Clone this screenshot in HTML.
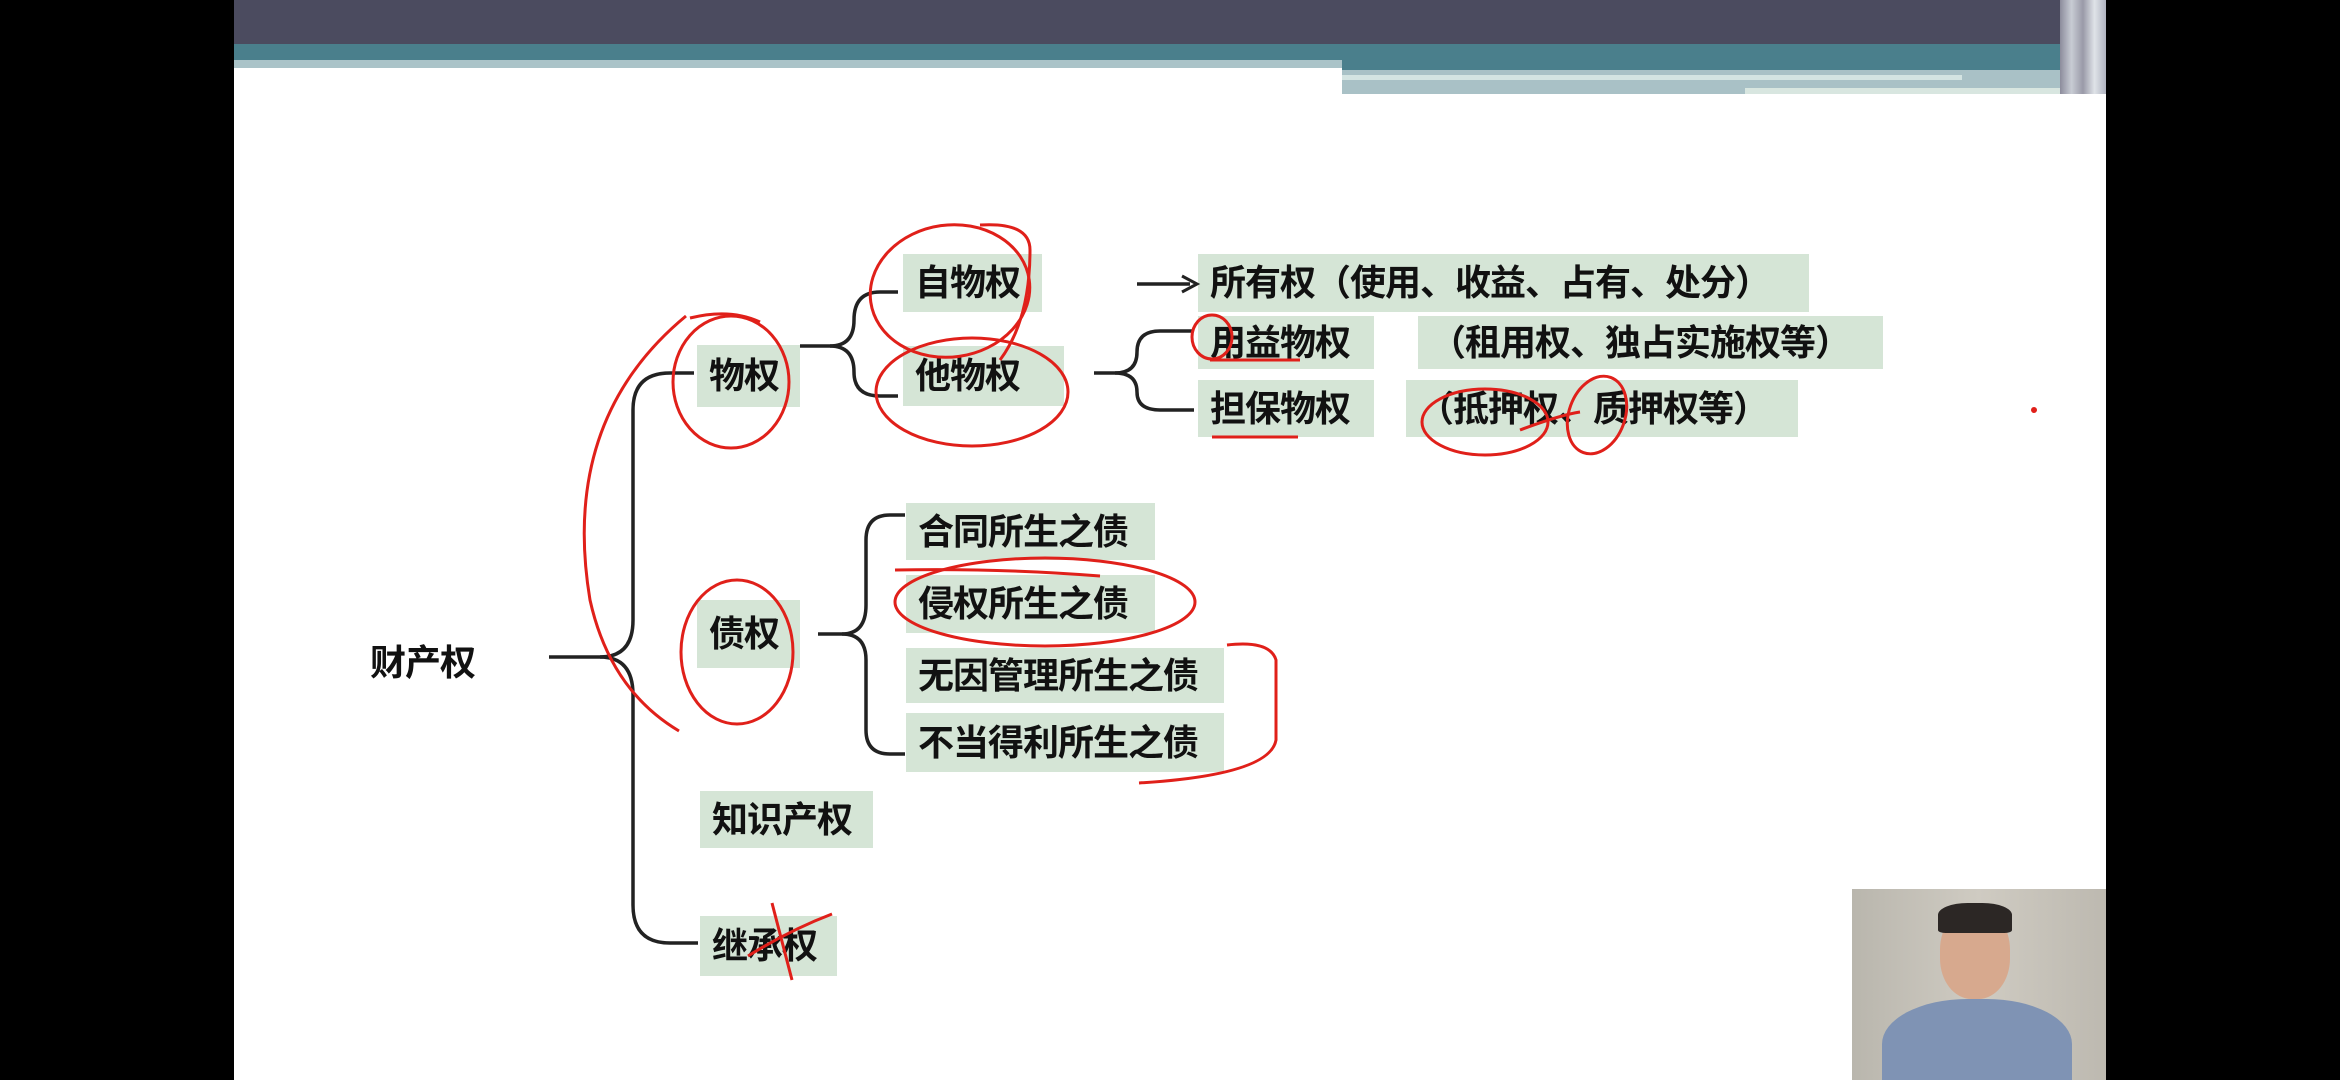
<!DOCTYPE html>
<html><head><meta charset="utf-8"><style>
html,body{margin:0;padding:0;}
body{width:2340px;height:1080px;background:#000;position:relative;overflow:hidden;font-family:"Liberation Sans","Noto Sans CJK SC",sans-serif;}
.slide{position:absolute;left:234px;top:0;width:1872px;height:1080px;background:#fff;}
.b{position:absolute;background:#d5e5d6;font-weight:bold;font-size:36px;color:#111;line-height:1;display:flex;align-items:center;padding-left:12px;box-sizing:border-box;white-space:nowrap;letter-spacing:-1px;}
.t{position:absolute;font-weight:bold;font-size:36px;color:#111;white-space:nowrap;letter-spacing:-1px;}
svg{position:absolute;left:0;top:0;}
</style></head><body>
<div class="slide"></div>
<div style="position:absolute;left:234px;top:0;width:1872px;height:44px;background:#4b4b5f"></div>
<div style="position:absolute;left:234px;top:44px;width:1852px;height:16px;background:#4a7f8c"></div>
<div style="position:absolute;left:234px;top:60px;width:1108px;height:8px;background:#aac3c8"></div>
<div style="position:absolute;left:1342px;top:60px;width:742px;height:10px;background:#4a7f8c"></div>
<div style="position:absolute;left:1342px;top:70px;width:742px;height:24px;background:#a9c1c6"></div>
<div style="position:absolute;left:1342px;top:75px;width:620px;height:5px;background:#d4e4e2"></div>
<div style="position:absolute;left:1745px;top:88px;width:335px;height:6px;background:#d8e6e0"></div>
<div style="position:absolute;left:2060px;top:0;width:46px;height:94px;background:linear-gradient(90deg,#8c8c9c,#c8ccd4,#9a9aa8,#dfe3e8,#b0b4c0)"></div>

<div class="t" style="left:370px;top:634px;">财产权</div>
<div class="b" style="left:697px;top:345px;width:103px;height:62px;">物权</div>
<div class="b" style="left:697px;top:600px;width:103px;height:68px;">债权</div>
<div class="b" style="left:700px;top:791px;width:173px;height:57px;">知识产权</div>
<div class="b" style="left:700px;top:916px;width:137px;height:60px;">继承权</div>
<div class="b" style="left:903px;top:254px;width:139px;height:58px;">自物权</div>
<div class="b" style="left:903px;top:346px;width:161px;height:60px;">他物权</div>
<div class="b" style="left:1198px;top:254px;width:611px;height:58px;">所有权（使用、收益、占有、处分）</div>
<div class="b" style="left:1198px;top:316px;width:176px;height:53px;">用益物权</div>
<div class="b" style="left:1418px;top:316px;width:465px;height:53px;">（租用权、独占实施权等）</div>
<div class="b" style="left:1198px;top:380px;width:176px;height:57px;">担保物权</div>
<div class="b" style="left:1406px;top:380px;width:392px;height:57px;">（抵押权、质押权等）</div>
<div class="b" style="left:906px;top:503px;width:249px;height:57px;">合同所生之债</div>
<div class="b" style="left:906px;top:575px;width:249px;height:58px;">侵权所生之债</div>
<div class="b" style="left:906px;top:648px;width:318px;height:55px;">无因管理所生之债</div>
<div class="b" style="left:906px;top:713px;width:318px;height:59px;">不当得利所生之债</div>

<div style="position:absolute;left:1852px;top:889px;width:254px;height:191px;background:linear-gradient(90deg,#b9b6ad,#cfcbc2 50%,#bdb9b0);overflow:hidden">
<div style="position:absolute;left:88px;top:20px;width:70px;height:90px;border-radius:45%;background:#d7a98e"></div>
<div style="position:absolute;left:86px;top:14px;width:74px;height:30px;border-radius:40% 40% 10% 10%;background:#2c2725"></div>
<div style="position:absolute;left:30px;top:110px;width:190px;height:100px;border-radius:45% 45% 0 0;background:#7f93b4"></div>
</div>

<svg width="2340" height="1080" viewBox="0 0 2340 1080">
<g fill="none" stroke="#222" stroke-width="3.5">
<path d="M549 657 H600 Q633 657 633 620 V410 Q633 373 670 373 H694"/>
<path d="M600 657 Q633 657 633 695 V905 Q633 943 670 943 H698"/>
<path d="M800 346 H830 Q854 346 854 320 Q854 292 880 292 H898"/>
<path d="M830 346 Q854 346 854 372 Q854 396 880 396 H898"/>
<path d="M1094 373 H1115 Q1137 373 1137 352 Q1137 331 1160 331 H1194"/>
<path d="M1115 373 Q1137 373 1137 392 Q1137 410 1160 410 H1194"/>
<path d="M818 634 H842 Q866 634 866 605 V540 Q866 515 890 515 H905"/>
<path d="M842 634 Q866 634 866 660 V730 Q866 754 890 754 H905"/>
<path d="M1137 284 H1190"/>
</g>
<path d="M1182 276 L1197 284 L1182 292" fill="none" stroke="#222" stroke-width="3"/>
<g fill="none" stroke="#e0201a" stroke-width="3">
<ellipse cx="950" cy="291" rx="80" ry="66" transform="rotate(-8 950 291)"/>
<path d="M980 225 Q1030 222 1030 250 Q1030 320 1000 360"/>
<ellipse cx="972" cy="392" rx="96" ry="54"/>
<ellipse cx="731" cy="382" rx="58" ry="66"/>
<path d="M690 318 Q730 308 760 322"/>
<ellipse cx="737" cy="652" rx="56" ry="72"/>
<path d="M686 316 Q560 420 590 600 Q610 690 679 731"/>
<ellipse cx="1045" cy="602" rx="150" ry="44"/>
<path d="M895 570 Q1000 568 1100 576"/>
<path d="M1227 645 Q1270 640 1276 660 V740 Q1270 775 1139 783"/>
<ellipse cx="1212" cy="337" rx="20" ry="22"/>
<path d="M1210 360 H1300"/>
<path d="M1212 437 H1298"/>
<ellipse cx="1485" cy="422" rx="63" ry="33"/>
<path d="M1520 430 Q1560 415 1580 412"/>
<ellipse cx="1597" cy="415" rx="28" ry="40" transform="rotate(20 1597 415)"/>
<path d="M772 903 L792 980"/>
<path d="M748 956 Q790 930 832 914"/>
</g>
<circle cx="2034" cy="410" r="3" fill="#e0201a"/>
</svg>
</body></html>
